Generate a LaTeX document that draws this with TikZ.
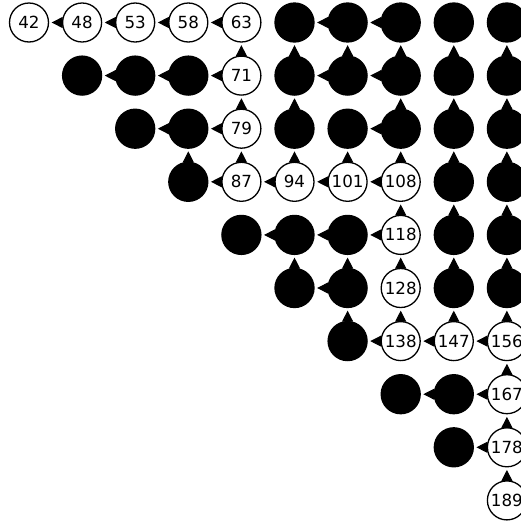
\documentclass[tikz,border=0pt]{standalone}
\usepackage{fontspec}
\setmainfont{DejaVu Sans}
\usepackage{tikz}
\usetikzlibrary{arrows.meta}

\begin{document}
\begin{tikzpicture}[x=53.1pt,y=-53.1pt,
		cell/.style={circle,draw,line width=1.3pt,minimum size=39pt,inner sep=0pt,fill=white,
			font=\fontsize{16.7}{18}\selectfont},
		full/.style={cell,fill=black},
		link/.style={line width=1pt,-{Triangle[length=11pt,width=11pt]},shorten >=2.5pt}]
	\useasboundingbox (-29pt,22.5pt) rectangle (492pt,-500.5pt);
	% numbered cells
	\foreach \r/\c/\t in {0/0/42,0/1/48,0/2/53,0/3/58,0/4/63,1/4/71,2/4/79,3/4/87,3/5/94,3/6/101,
			3/7/108,4/7/118,5/7/128,6/7/138,6/8/147,6/9/156,7/9/167,8/9/178,9/9/189}
		\node[cell] (n-\r-\c) at (\c,\r) {\t};
	% filled cells
	\foreach \r/\c in {0/5,0/6,0/7,0/8,0/9,1/1,1/2,1/3,1/5,1/6,1/7,1/8,1/9,2/2,2/3,2/5,2/6,2/7,2/8,2/9,
			3/3,3/8,3/9,4/4,4/5,4/6,4/8,4/9,5/5,5/6,5/8,5/9,6/6,7/7,7/8,8/8}
		\node[full] (n-\r-\c) at (\c,\r) {};
	% leftward links
	\foreach \r/\c [evaluate=\c as \p using int(\c-1)] in {0/1,0/2,0/3,0/4,0/6,0/7,1/2,1/3,1/4,1/6,1/7,
			2/3,2/4,2/7,3/4,3/5,3/6,3/7,4/5,4/6,4/7,5/6,6/7,6/8,6/9,7/8,7/9,8/9}
		\draw[link] (n-\r-\c) -- (n-\r-\p);
	% upward links
	\foreach \r/\c [evaluate=\r as \p using int(\r-1)] in {1/4,1/5,1/6,1/7,1/8,1/9,2/4,2/5,2/7,2/8,2/9,
			3/3,3/4,3/5,3/6,3/7,3/8,3/9,4/7,4/8,4/9,5/5,5/6,5/7,5/8,5/9,6/6,6/7,6/8,6/9,7/9,8/9,9/9}
		\draw[link] (n-\r-\c) -- (n-\p-\c);
\end{tikzpicture}
\end{document}
